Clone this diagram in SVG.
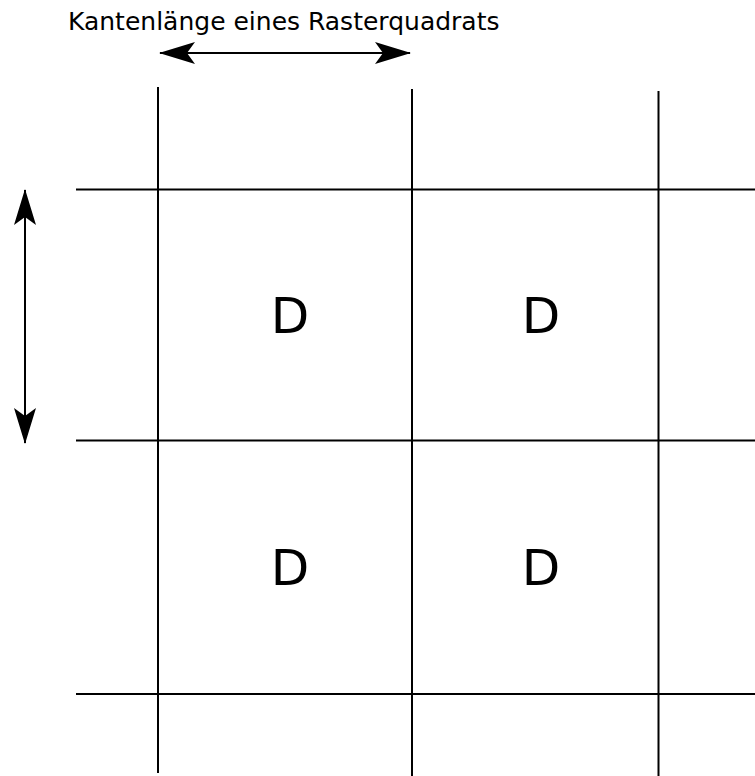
<svg xmlns="http://www.w3.org/2000/svg" width="755" height="776" viewBox="0 0 755 776">
<style>
.g{stroke:#000;stroke-width:2;fill:none}
.a{stroke:#000;stroke-width:2;fill:none}
.d{font-family:"DejaVu Sans",sans-serif;font-size:50px;text-anchor:middle;fill:#000}
.t{font-family:"DejaVu Sans",sans-serif;font-size:25px;fill:#000}
</style>
<defs>
<marker id="ah" markerUnits="userSpaceOnUse" viewBox="0 0 36 24" markerWidth="36" markerHeight="24" refX="35" refY="12" orient="auto-start-reverse">
<path d="M36,12 L0,1 L8,12 L0,23 Z" fill="#000"/>
</marker>
</defs>
<g id="grid">
<line class="g" x1="158" y1="87" x2="158" y2="773"/>
<line class="g" x1="412" y1="89" x2="412" y2="776"/>
<line class="g" x1="658.5" y1="91" x2="658.5" y2="776"/>
<line class="g" x1="76" y1="189.5" x2="755" y2="189.5"/>
<line class="g" x1="76" y1="440.5" x2="755" y2="440.5"/>
<line class="g" x1="76" y1="694" x2="755" y2="694"/>
</g>
<g id="connectors">
<line class="a" x1="160" y1="53" x2="410" y2="53" marker-start="url(#ah)" marker-end="url(#ah)"/>
<line class="a" x1="25" y1="190" x2="25" y2="443" marker-start="url(#ah)" marker-end="url(#ah)"/>
</g>
<g id="label"><text class="t" x="68" y="30">Kantenlänge eines Rasterquadrats</text></g>
<g id="cell1"><text class="d" x="290" y="333">D</text></g>
<g id="cell2"><text class="d" x="541" y="333">D</text></g>
<g id="cell3"><text class="d" x="290" y="585">D</text></g>
<g id="cell4"><text class="d" x="541" y="585">D</text></g>
</svg>
